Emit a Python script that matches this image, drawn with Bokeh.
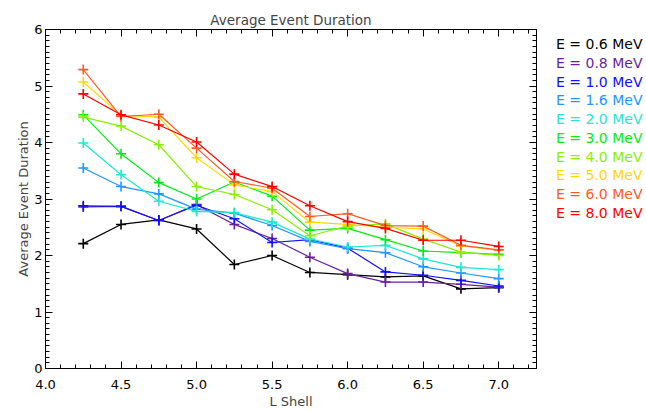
from bokeh.plotting import figure
from bokeh.layouts import row
from bokeh.models import (LinearAxis, SingleIntervalTicker, Range1d, NumeralTickFormatter,
                          CustomJSTickFormatter)
from bokeh.core.properties import value
from bokeh.embed import file_html
from bokeh.resources import INLINE

# ---- data ----
l_shell = [4.25, 4.5, 4.75, 5.0, 5.25, 5.5, 5.75, 6.0, 6.25, 6.5, 6.75, 7.0]
energies = ["0.6", "0.8", "1.0", "1.6", "2.0", "3.0", "4.0", "5.0", "6.0", "8.0"]
dur_0_6 = [2.21, 2.55, 2.63, 2.47, 1.84, 2.00, 1.70, 1.66, 1.62, 1.64, 1.41, 1.43]
dur_0_8 = [2.86, 2.87, 2.62, 2.90, 2.55, 2.30, 1.97, 1.68, 1.53, 1.53, 1.49, 1.44]
dur_1_0 = [2.88, 2.87, 2.62, 2.89, 2.65, 2.23, 2.28, 2.13, 1.71, 1.65, 1.56, 1.46]
dur_1_6 = [3.55, 3.22, 3.09, 2.82, 2.75, 2.53, 2.25, 2.12, 2.05, 1.80, 1.69, 1.59]
dur_2_0 = [3.99, 3.43, 2.96, 2.78, 2.76, 2.59, 2.29, 2.15, 2.18, 1.94, 1.79, 1.75]
dur_3_0 = [4.49, 3.80, 3.29, 3.00, 3.30, 3.05, 2.45, 2.48, 2.28, 2.08, 2.05, 2.02]
dur_4_0 = [4.45, 4.29, 3.96, 3.22, 3.08, 2.81, 2.35, 2.52, 2.56, 2.29, 2.06, 2.00]
dur_5_0 = [5.07, 4.48, 4.45, 3.73, 3.25, 3.13, 2.59, 2.55, 2.50, 2.47, 2.17, 2.09]
dur_6_0 = [5.29, 4.46, 4.50, 3.90, 3.31, 3.19, 2.69, 2.74, 2.53, 2.52, 2.18, 2.10]
dur_8_0 = [4.86, 4.49, 4.31, 4.01, 3.44, 3.22, 2.88, 2.60, 2.48, 2.27, 2.27, 2.16]
series = [dur_0_6, dur_0_8, dur_1_0, dur_1_6, dur_2_0, dur_3_0, dur_4_0, dur_5_0, dur_6_0, dur_8_0]
colors = ["#000000", "#6a1fa0", "#1010ff", "#1e96ff", "#1ee8d0",
          "#00ee10", "#88f000", "#ffd800", "#ff5a28", "#ff0000"]
legend_labels = [f"E = {e} MeV" for e in energies]

FONT = "DejaVu Sans"

p = figure(width=538, height=411, x_range=Range1d(4.0, 7.25), y_range=Range1d(0, 6),
           output_backend="svg", toolbar_location=None,
           x_axis_type=None, y_axis_type=None,
           min_border_left=45, min_border_right=2, min_border_top=29, min_border_bottom=41)
p.outline_line_color = "#000000"
p.title.text = "Average Event Duration"
p.title.align = "center"
p.title.text_font = FONT
p.title.text_font_size = "13.5px"
p.title.text_font_style = "normal"
p.title.standoff = 4


def style_axis(ax, show_labels):
    ax.major_tick_in = 7
    ax.major_tick_out = 0
    ax.minor_tick_in = 4
    ax.minor_tick_out = 0
    ax.axis_line_color = "#000000"
    ax.major_tick_line_color = "#000000"
    ax.minor_tick_line_color = "#000000"
    ax.major_label_text_font = FONT
    ax.axis_label_text_font = FONT
    ax.axis_label_text_font_style = "normal"
    ax.major_label_text_color = "#000000"
    ax.major_label_text_font_size = "13px"
    ax.axis_label_text_font_size = "13px"
    if not show_labels:
        ax.formatter = CustomJSTickFormatter(code="return ''")
        ax.major_label_standoff = 0


xb = LinearAxis(ticker=SingleIntervalTicker(interval=0.5, num_minor_ticks=5), axis_label="L Shell")
style_axis(xb, True)
xb.formatter = NumeralTickFormatter(format="0.0")
xb.major_label_standoff = 11
xb.axis_label_standoff = 2
p.add_layout(xb, "below")

yl = LinearAxis(ticker=SingleIntervalTicker(interval=1, num_minor_ticks=10), axis_label="Average Event Duration")
style_axis(yl, True)
yl.major_label_standoff = 3
yl.axis_label_standoff = 0
p.add_layout(yl, "left")

xt = LinearAxis(ticker=SingleIntervalTicker(interval=0.5, num_minor_ticks=5))
style_axis(xt, False)
p.add_layout(xt, "above")

yr = LinearAxis(ticker=SingleIntervalTicker(interval=1, num_minor_ticks=10))
style_axis(yr, False)
p.add_layout(yr, "right")

for vals, c in zip(series, colors):
    p.line(l_shell, vals, line_color=c, line_width=1.2)
    p.scatter(l_shell, vals, marker="cross", size=10, line_color=c, line_width=1.6)

# ---- legend panel (text only, one colour per entry) ----
# its frame is aligned with the main frame (340 px tall); y counts px down from frame top
lg = figure(width=108, height=411, x_range=Range1d(0, 108), y_range=Range1d(340, 0),
            output_backend="svg", toolbar_location=None, x_axis_type=None, y_axis_type=None,
            min_border=0, title=None)
lg.outline_line_color = None
lg_x = [17.5] * len(legend_labels)
lg_y = [14.7 + i * 18.8 for i in range(len(legend_labels))]
lg.text(x=lg_x, y=lg_y, text=legend_labels, text_color=colors, text_font=value(FONT),
        text_font_size="14px", text_baseline="middle", text_align="left")

layout = row(p, lg, spacing=0)
open("out.html", "w").write(file_html(layout, INLINE))
